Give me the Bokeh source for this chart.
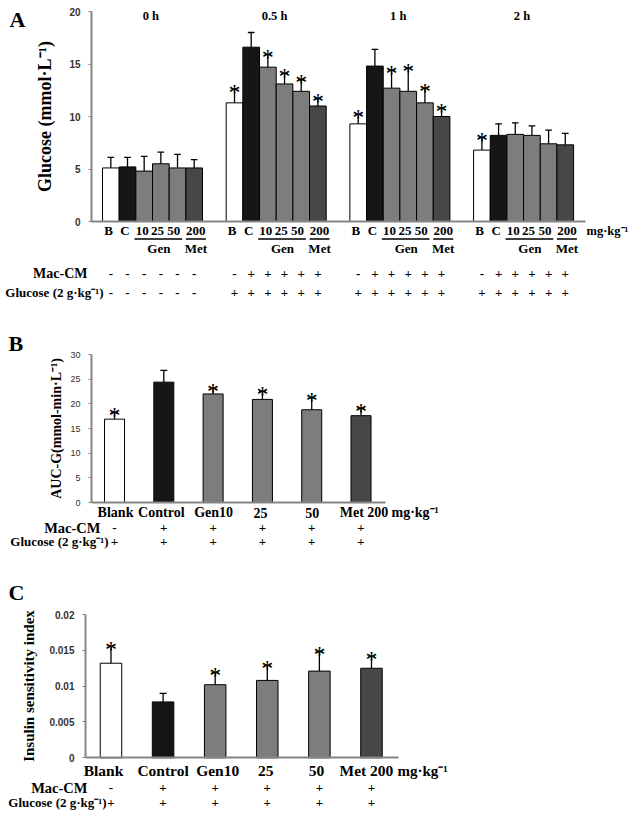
from bokeh.plotting import figure
from bokeh.models import ColumnDataSource, Range1d, FixedTicker
from bokeh.layouts import column
from bokeh.core.properties import value
from bokeh.embed import file_html
from bokeh.resources import INLINE

# ---------------- DATA ----------------
# Panel A: blood glucose (mmol/L) at each time point
time_points = ["0 h", "0.5 h", "1 h", "2 h"]
dose_labels_A = ["B", "C", "10", "25", "50", "200"]
glucose_0h = [5.1, 5.2, 4.8, 5.5, 5.1, 5.1]
glucose_0h_sd = [1.0, 0.9, 1.4, 1.1, 1.3, 0.8]
glucose_05h = [11.3, 16.6, 14.7, 13.1, 12.4, 11.0]
glucose_05h_sd = [1.3, 1.4, 1.2, 1.0, 1.1, 0.7]
glucose_1h = [9.3, 14.8, 12.7, 12.4, 11.3, 10.0]
glucose_1h_sd = [0.9, 1.6, 1.7, 2.2, 1.4, 0.8]
glucose_2h = [6.8, 8.2, 8.3, 8.2, 7.4, 7.3]
glucose_2h_sd = [1.2, 1.1, 1.1, 0.9, 1.3, 1.1]
sig_0h = [0, 0, 0, 0, 0, 0]
sig_05h = [1, 0, 1, 1, 1, 1]
sig_1h = [1, 0, 1, 1, 1, 1]
sig_2h = [1, 0, 0, 0, 0, 0]
mac_cm_0h = ["-", "-", "-", "-", "-", "-"]
mac_cm_later = ["-", "+", "+", "+", "+", "+"]
glucose_load_0h = ["-", "-", "-", "-", "-", "-"]
glucose_load_later = ["+", "+", "+", "+", "+", "+"]
y_ticks_A = [0, 5, 10, 15, 20]

# Panels B and C
groups_BC = ["Blank", "Control", "Gen10", "25", "50", "Met 200"]
auc_g = [16.9, 24.4, 22.0, 20.9, 18.8, 17.6]
auc_g_sd = [1.3, 2.4, 1.2, 1.6, 2.4, 1.5]
sig_B = [1, 0, 1, 1, 1, 1]
y_ticks_B = [0, 5, 10, 15, 20, 25, 30]

isi = [0.0132, 0.0078, 0.0102, 0.0108, 0.0121, 0.0125]
isi_sd = [0.0024, 0.0012, 0.0017, 0.0021, 0.0027, 0.0017]
sig_C = [1, 0, 1, 1, 1, 1]
y_ticks_C = [0, 0.005, 0.01, 0.015, 0.02]
y_tick_labels_C = ["0", "0.005", "0.01", "0.015", "0.02"]

mac_cm_BC = ["-", "+", "+", "+", "+", "+"]
glucose_load_BC = ["+", "+", "+", "+", "+", "+"]

# ---------------- STYLE ----------------
bar_colors = ["#ffffff", "#161616", "#7d7d7d", "#7d7d7d", "#7d7d7d", "#474747"]
SERIF = "Liberation Serif"
SANS = "Liberation Sans"
AXIS_GRAY = "#858585"
W = 629


class Panel:
    """Maps page pixels to data units for one figure whose frame fills its canvas."""

    def __init__(self, top, height, axis_x, axis_y, x_unit, y_ppu, x_axis_end):
        self.top, self.height = top, height
        self.axis_x, self.axis_y = axis_x, axis_y    # page px of axis lines
        self.x_unit, self.y_ppu = x_unit, y_ppu
        self.x_axis_end = x_axis_end

    def X(self, px):
        return (px - self.axis_x) / self.x_unit

    def Y(self, py):
        return (self.axis_y - py) / self.y_ppu


def make_fig(pn, x_shift, ymax, yticks, ylabel, label_size, standoff,
             tick_size, tick_style, overrides=None):
    xr = (pn.X(0) + x_shift, pn.X(W) + x_shift)
    yr = (pn.Y(pn.top + pn.height), pn.Y(pn.top))
    p = figure(width=W, height=pn.height, output_backend="svg", toolbar_location=None,
               x_range=Range1d(*xr), y_range=Range1d(*yr),
               min_border=0, min_border_left=0, min_border_right=0,
               min_border_top=0, min_border_bottom=0)
    p.frame_align = False
    p.outline_line_color = None
    p.xgrid.visible = False
    p.ygrid.visible = False
    p.background_fill_color = "white"
    p.border_fill_color = "white"
    xa = p.xaxis[0]
    xa.fixed_location = 0
    xa.bounds = (x_shift, pn.X(pn.x_axis_end) + x_shift)
    xa.ticker = FixedTicker(ticks=[])
    xa.major_tick_line_color = None
    xa.minor_tick_line_color = None
    xa.major_label_text_font_size = "0px"
    xa.axis_line_color = AXIS_GRAY
    xa.axis_line_width = 2
    ya = p.yaxis[0]
    ya.fixed_location = x_shift
    ya.bounds = (0, ymax)
    ya.ticker = FixedTicker(ticks=yticks)
    if overrides:
        ya.major_label_overrides = overrides
    ya.axis_line_color = AXIS_GRAY
    ya.axis_line_width = 2
    ya.major_tick_line_color = AXIS_GRAY
    ya.major_tick_out = 3
    ya.major_tick_in = 0
    ya.minor_tick_line_color = None
    ya.major_label_standoff = 8
    ya.major_label_text_font = SANS
    ya.major_label_text_font_size = f"{tick_size}px"
    ya.major_label_text_font_style = tick_style
    ya.major_label_text_color = "#333333"
    ya.axis_label = ylabel
    ya.axis_label_text_font = SERIF
    ya.axis_label_text_font_style = "bold"
    ya.axis_label_text_font_size = f"{label_size}px"
    ya.axis_label_text_color = "black"
    ya.axis_label_standoff = standoff
    return p


def add_text(p, xs, ys, texts, size, align="center", baseline="middle",
             style="bold", font=SERIF, color="black"):
    p.text(x=list(xs), y=list(ys), text=list(texts), text_font=value(font),
           text_font_size=f"{size}px", text_font_style=style,
           text_align=align, text_baseline=baseline, text_color=color)


def add_lines(p, x0s, x1s, ys):
    p.segment(x0=x0s, y0=ys, x1=x1s, y1=ys, line_color="black", line_width=1.3)


def bars_with_errors(p, xs, means, sds, sig, width, cap, ppu, star_size):
    src = ColumnDataSource(dict(x=xs, top=means, color=bar_colors))
    p.vbar(x="x", top="top", bottom=0, width=width, source=src,
           fill_color="color", line_color="black", line_width=1)
    ups = [m + s for m, s in zip(means, sds)]
    p.segment(x0=xs, y0=means, x1=xs, y1=ups, line_color="black", line_width=1.3)
    p.segment(x0=[x - cap for x in xs], y0=ups, x1=[x + cap for x in xs], y1=ups,
              line_color="black", line_width=1.3)
    sx = [x for x, s in zip(xs, sig) if s]
    sy = [u - 2.5 / ppu for u, s in zip(ups, sig) if s]
    add_text(p, sx, sy, ["*"] * len(sx), star_size, baseline="alphabetic", style="normal")


# ================= PANEL A =================
A_UNIT = 16.67                      # px per bar
A = Panel(top=0, height=308, axis_x=91, axis_y=221, x_unit=A_UNIT, y_ppu=10.5, x_axis_end=585)
A_SHIFT = -1.16                     # data x of the y-axis (first bar centred at 0)
A_STEP = 7.42                       # bars between group starts
pA = make_fig(A, A_SHIFT, 20, y_ticks_A, "Glucose (mmol·L⁻¹)", 18, 11, 10, "bold")


def XA(px):
    return A.X(px) + A_SHIFT


means_A = [glucose_0h, glucose_05h, glucose_1h, glucose_2h]
sds_A = [glucose_0h_sd, glucose_05h_sd, glucose_1h_sd, glucose_2h_sd]
sigs_A = [sig_0h, sig_05h, sig_1h, sig_2h]
mac_A = [mac_cm_0h, mac_cm_later, mac_cm_later, mac_cm_later]
glu_A = [glucose_load_0h, glucose_load_later, glucose_load_later, glucose_load_later]
label_off_A = [-0.14, 0.85, 1.88, 2.8, 3.78, 5.1]   # text positions, in bar widths

for g in range(len(time_points)):
    base = g * A_STEP
    xs = [base + i for i in range(6)]
    bars_with_errors(pA, xs, means_A[g], sds_A[g], sigs_A[g], 1.0, 0.2, A.y_ppu, 24)
    add_text(pA, [base + 2.4], [A.Y(15)], [time_points[g]], 12.5)
    add_text(pA, [base + o for o in label_off_A], [A.Y(230)] * 6, dose_labels_A, 13)
    add_lines(pA, [base + 1.42, base + 4.5], [base + 4.28, base + 5.7], [A.Y(238.5)] * 2)
    add_text(pA, [base + 2.88, base + 5.1], [A.Y(248)] * 2, ["Gen", "Met"], 13)
    add_text(pA, xs, [A.Y(273)] * 6, mac_A[g], 13)
    add_text(pA, xs, [A.Y(292)] * 6, glu_A[g], 13)

add_text(pA, [XA(586)], [A.Y(230)], ["mg·kg⁻¹"], 12.5, align="left")
add_text(pA, [XA(87)], [A.Y(273)], ["Mac-CM"], 14, align="right")
add_text(pA, [XA(103)], [A.Y(292)], ["Glucose (2 g·kg⁻¹)"], 13, align="right")
add_text(pA, [XA(9)], [A.Y(19)], ["A"], 22, align="left", baseline="alphabetic")

# ================= PANEL B =================
B = Panel(top=308, height=245, axis_x=91, axis_y=502, x_unit=49.3, y_ppu=148 / 30.0, x_axis_end=385)
B_SHIFT = -0.467
pB = make_fig(B, B_SHIFT, 30, y_ticks_B, "AUC-G(mmol-min·L⁻¹)", 14, 3, 9, "normal")


def XB(px):
    return B.X(px) + B_SHIFT


label_dx_B = [1, -2.5, 0.5, -2, 0.5, 3]     # px nudges of the category texts
xsB = list(range(len(groups_BC)))
bars_with_errors(pB, xsB, auc_g, auc_g_sd, sig_B, 20 / B.x_unit, 3.5 / B.x_unit, B.y_ppu, 24)
add_text(pB, [x + d / B.x_unit for x, d in zip(xsB, label_dx_B)], [B.Y(512)] * 6, groups_BC, 14)
add_text(pB, [XB(391)], [B.Y(512)], ["mg·kg⁻¹"], 14, align="left")
add_text(pB, xsB, [B.Y(527)] * 6, mac_cm_BC, 13)
add_text(pB, xsB, [B.Y(541)] * 6, glucose_load_BC, 13)
add_text(pB, [XB(100)], [B.Y(527)], ["Mac-CM"], 14.5, align="right")
add_text(pB, [XB(108)], [B.Y(541)], ["Glucose (2 g·kg⁻¹)"], 13, align="right")
add_text(pB, [XB(8)], [B.Y(343)], ["B"], 22, align="left", baseline="alphabetic")

# ================= PANEL C =================
C = Panel(top=553, height=261, axis_x=85, axis_y=757.3, x_unit=52.1, y_ppu=143.3 / 0.02, x_axis_end=398)
C_SHIFT = -0.489
pC = make_fig(C, C_SHIFT, 0.02, y_ticks_C, "Insulin sensitivity index", 15, 9, 10, "bold",
              overrides={t: l for t, l in zip(y_ticks_C, y_tick_labels_C)})


def XC(px):
    return C.X(px) + C_SHIFT


label_dx_C = [-7.5, 0, 2.5, -1.5, -3, -5]
xsC = list(range(len(groups_BC)))
bars_with_errors(pC, xsC, isi, isi_sd, sig_C, 21.5 / C.x_unit, 3.5 / C.x_unit, C.y_ppu, 24)
add_text(pC, [x + d / C.x_unit for x, d in zip(xsC, label_dx_C)], [C.Y(770)] * 6, groups_BC, 15.5)
add_text(pC, [XC(397)], [C.Y(770)], ["mg·kg⁻¹"], 15, align="left")
add_text(pC, xsC, [C.Y(787)] * 6, mac_cm_BC, 13)
add_text(pC, xsC, [C.Y(802)] * 6, glucose_load_BC, 13)
add_text(pC, [XC(87)], [C.Y(787)], ["Mac-CM"], 14.5, align="right")
add_text(pC, [XC(106)], [C.Y(802)], ["Glucose (2 g·kg⁻¹)"], 13, align="right")
add_text(pC, [XC(8)], [C.Y(592)], ["C"], 22, align="left", baseline="alphabetic")

layout = column(pA, pB, pC)
open("out.html", "w").write(file_html(layout, INLINE))
